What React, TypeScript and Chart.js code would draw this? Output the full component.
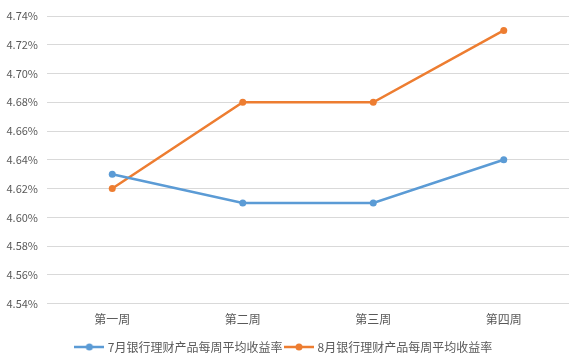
import React, { useEffect, useRef } from "react";
import { Chart, registerables } from "chart.js";

Chart.register(...registerables);

const categories = ["第一周", "第二周", "第三周", "第四周"];
const julyLabel = "7月银行理财产品每周平均收益率";
const augLabel = "8月银行理财产品每周平均收益率";
const julyValues = [4.63, 4.61, 4.61, 4.64];
const augValues = [4.62, 4.68, 4.68, 4.73];
const yMin = 4.54;
const yMax = 4.74;
const yStep = 0.02;

const BLUE = "#5B9BD5";
const ORANGE = "#ED7D31";
const FONT = "'Noto Sans CJK SC', 'Noto Sans', sans-serif";

function legendIcon(color: string) {
  const c = document.createElement("canvas");
  c.width = 30;
  c.height = 10;
  const ctx = c.getContext("2d")!;
  ctx.strokeStyle = color;
  ctx.lineWidth = 2.5;
  ctx.beginPath();
  ctx.moveTo(0, 5);
  ctx.lineTo(30, 5);
  ctx.stroke();
  ctx.fillStyle = color;
  ctx.beginPath();
  ctx.arc(15, 5, 3.5, 0, Math.PI * 2);
  ctx.fill();
  return c;
}

export default function App() {
  const ref = useRef<HTMLCanvasElement>(null);
  useEffect(() => {
    if (!ref.current) return;
    const icons = [legendIcon(BLUE), legendIcon(ORANGE)];
    const chart = new Chart(ref.current, {
      type: "line",
      data: {
        labels: categories,
        datasets: [
          {
            label: julyLabel,
            data: julyValues,
            borderColor: BLUE,
            backgroundColor: BLUE,
            borderWidth: 2.5,
            pointRadius: 3.5,
            pointBackgroundColor: BLUE,
            pointBorderWidth: 0,
            tension: 0,
          },
          {
            label: augLabel,
            data: augValues,
            borderColor: ORANGE,
            backgroundColor: ORANGE,
            borderWidth: 2.5,
            pointRadius: 3.5,
            pointBackgroundColor: ORANGE,
            pointBorderWidth: 0,
            tension: 0,
          },
        ],
      },
      options: {
        animation: false,
        responsive: false,
        maintainAspectRatio: false,
        layout: { padding: { top: 16, right: 10, left: 0, bottom: 1 } },
        plugins: {
          tooltip: { enabled: false },
          legend: {
            position: "bottom",
            labels: {
              font: { family: FONT, size: 12 },
              color: "#595959",
              usePointStyle: true,
              pointStyleWidth: 25,
              padding: 4,
              generateLabels: (ch: any) =>
                ch.data.datasets.map((ds: any, i: number) => ({
                  text: ds.label,
                  pointStyle: icons[i],
                  fillStyle: ds.borderColor,
                  strokeStyle: ds.borderColor,
                  lineWidth: 0,
                  hidden: false,
                  datasetIndex: i,
                  fontColor: "#595959",
                })),
            },
          },
        },
        scales: {
          x: {
            offset: true,
            grid: { display: false, drawTicks: false, offset: true },
            border: { display: false },
            ticks: {
              font: { family: FONT, size: 12 },
              color: "#595959",
              padding: 9,
            },
            afterFit: (s: any) => {
              s.height += 1;
            },
          },
          y: {
            min: yMin,
            max: yMax,
            grid: { color: "#d9d9d9", drawTicks: false, lineWidth: 1 },
            border: { display: false },
            ticks: {
              stepSize: yStep,
              font: { family: FONT, size: 11 },
              color: "#595959",
              padding: 9,
              callback: (v: any) => Number(v).toFixed(2) + "%",
            },
            afterFit: (s: any) => {
              s.width = 47;
            },
          },
        },
      },
    });
    return () => chart.destroy();
  }, []);
  return (
    <div style={{ position: "fixed", left: 0, top: 0, width: 579, height: 364, background: "#fff" }}>
      <canvas ref={ref} width={579} height={364} style={{ width: 579, height: 364 }} />
    </div>
  );
}
